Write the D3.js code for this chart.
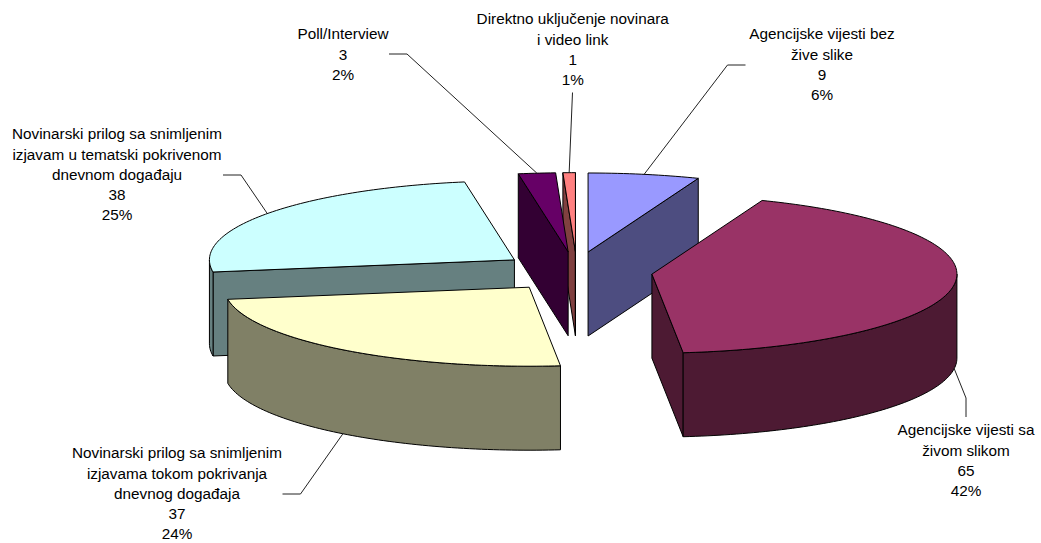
<!DOCTYPE html>
<html><head><meta charset="utf-8">
<script src="https://cdn.jsdelivr.net/npm/d3@7"></script>
<style>html,body{margin:0;padding:0;background:#fff}svg{display:block}
text{font-family:"Liberation Sans",Arial,sans-serif;font-size:15.3px;fill:#000;text-anchor:middle}</style>
</head><body><div id="c"></div>
<script>
const labelLines = [
  ["Agencijske vijesti bez","žive slike"],
  ["Agencijske vijesti sa","živom slikom"],
  ["Novinarski prilog sa snimljenim","izjavama tokom pokrivanja","dnevnog događaja"],
  ["Novinarski prilog sa snimljenim","izjavam u tematski pokrivenom","dnevnom događaju"],
  ["Poll/Interview"],
  ["Direktno uključenje novinara","i video link"]
];
const values = [9,65,37,38,3,1];
const percents = ["6%","42%","24%","25%","2%","1%"];
const topColors = ["#9999FF","#993366","#FFFFCC","#CCFFFF","#660066","#FF8080"];
const wallColors = ["#4D4D80","#4D1A33","#808066","#668080","#330033","#804040"];
const drawOrder = [0,5,4,3,2,1];
// layout
const W=1041,H=543, cx=576, cy=271.5, rx=305, ry=79, depth=84, explode=76.6;
const nudgeX=[-2,0,0,0.5,0,1], nudgeY=[0,0,0,0,0,0];
const labelX=[822,966,177,117,343,572.7];
const labelTop=[34,430,453,134,34,19];
const lineGap=20.2;
const elbows=[[[745.5,65],[727.5,65]],[[966,417],[966,398]],[[282.5,494],[300.5,494]],[[223,175],[241,175]],[[389,54],[407,54]],[[572.5,92.5]]];
const leaderOnWall=[false,true,true,false,false,false];

const svg=d3.select("#c").append("svg").attr("width",W).attr("height",H);
const arcs=d3.pie().sort(null).startAngle(0).endAngle(2*Math.PI)(values);
const line=d3.line();
const path=pts=>line(pts)+"Z";
const pieces=arcs.map((a,i)=>{
  const mid=(a.startAngle+a.endAngle)/2;
  const ax=cx+explode*Math.sin(mid)+nudgeX[i], ay=cy-explode*Math.cos(mid)*ry/rx+nudgeY[i];
  const P=(t,dz=0)=>[ax+rx*Math.sin(t), ay-ry*Math.cos(t)+dz];
  return {a,i,mid,ax,ay,P};
});
const sample=(t0,t1)=>{const n=Math.max(2,Math.ceil((t1-t0)/0.02));return d3.range(n+1).map(k=>t0+(t1-t0)*k/n);};
drawOrder.forEach(i=>{
  const {a,ax,ay,P}=pieces[i], g=svg.append("g");
  const s=a.startAngle,e=a.endAngle, st={stroke:"#000","stroke-width":1,"stroke-linejoin":"round"};
  const add=(pts,fill)=>{const p=g.append("path").attr("d",path(pts)).attr("fill",fill);Object.entries(st).forEach(([k,v])=>p.attr(k,v));};
  if(Math.sin(s)<-1e-6) add([[ax,ay],P(s),P(s,depth),[ax,ay+depth]],wallColors[i]);
  if(Math.sin(e)>-1e-6) add([[ax,ay],P(e),P(e,depth),[ax,ay+depth]],wallColors[i]);
  const t0=Math.max(s,Math.PI/2), t1=Math.min(e,3*Math.PI/2);
  if(t1>t0){const ts=sample(t0,t1);add([...ts.map(t=>P(t)),...ts.slice().reverse().map(t=>P(t,depth))],wallColors[i]);}
  add([[ax,ay],...sample(s,e).map(t=>P(t))],topColors[i]);
});
pieces.forEach(({i,mid,P})=>{
  const end=P(mid,leaderOnWall[i]?depth:0);
  svg.append("path").attr("d",d3.line()([...elbows[i],end])).attr("fill","none").attr("stroke","#222").attr("stroke-width",1);
});
labelLines.forEach((ls,i)=>{
  const t=svg.append("text").attr("x",labelX[i]).attr("y",labelTop[i]);
  [...ls,String(values[i]),percents[i]].forEach((s,k)=>{
    t.append("tspan").attr("x",labelX[i]).attr("y",labelTop[i]+k*lineGap).attr("dy","0.35em").text(s);
  });
});
</script></body></html>
